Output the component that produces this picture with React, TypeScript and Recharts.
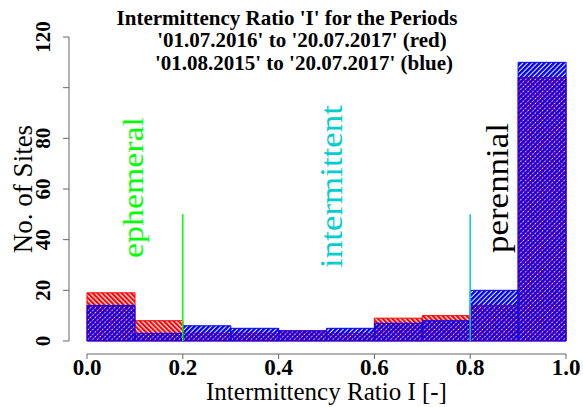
import React from "react"
import { ComposedChart, Bar, XAxis, YAxis, ReferenceLine } from "recharts"

// histogram bins of the intermittency ratio (bin centres, width 0.1)
const binCenters = [0.05, 0.15, 0.25, 0.35, 0.45, 0.55, 0.65, 0.75, 0.85, 0.95]
// '01.07.2016' to '20.07.2017'
const redCounts = [19, 8, 3, 3, 4, 3, 9, 10, 14, 104]
// '01.08.2015' to '20.07.2017'
const blueCounts = [14, 3, 6, 5, 4, 5, 7, 8, 20, 110]

const xTicks = [0, 0.2, 0.4, 0.6, 0.8, 1.0]
const yTicks = [0, 20, 40, 60, 80, 100, 120]
const yTickLabels = ["0", "20", "40", "60", "80", "", "120"]

// class limits ephemeral / intermittent / perennial
const classBreaks = [0.2, 0.8]
const breakColors = ["#00ff00", "#00cdcd"]
const breakLineTop = 50

const data = binCenters.map((x, i) => ({ x, red: redCounts[i], blue: blueCounts[i] }))

const serif = "Liberation Serif, Times New Roman, serif"
const axisColor = "#666666"
const xDomain: [number, number] = [-0.0376, 1]
const yDomain: [number, number] = [-5.14, 120]

const YTick = (props: any) => {
  const { x, y, payload } = props
  const idx = yTicks.indexOf(payload.value)
  const label = idx >= 0 ? yTickLabels[idx] : String(payload.value)
  return (
    <text
      x={0}
      y={0}
      transform={`translate(${x - 11},${y}) rotate(-90)`}
      textAnchor="middle"
      style={{ fontFamily: serif, fontWeight: "bold", fontSize: 21 }}
      fill="#000"
    >
      {label}
    </text>
  )
}

const XTick = (props: any) => {
  const { x, y, payload } = props
  return (
    <text x={x} y={y + 14} textAnchor="middle" style={{ fontFamily: serif, fontWeight: "bold", fontSize: 23 }} fill="#000">
      {Number(payload.value).toFixed(1)}
    </text>
  )
}

const txt = (size: number, bold = false) => ({ fontFamily: serif, fontSize: size, fontWeight: bold ? "bold" : "normal" })

export default function App() {
  return (
    <div style={{ position: "absolute", left: 0, top: 0, width: 583, height: 407, background: "#fff" }}>
      <ComposedChart
        width={583}
        height={407}
        data={data}
        margin={{ top: 37, right: 17, bottom: 0, left: 0 }}
        barCategoryGap={0}
        barGap={0}
      >
        <defs>
          <pattern id="redHatch" patternUnits="userSpaceOnUse" width="3.4" height="3.4" patternTransform="rotate(-45)">
            <rect width="3.4" height="3.4" fill="#ffffff" />
            <rect width="2.2" height="3.4" fill="#ff0000" />
          </pattern>
          <pattern id="blueHatch" patternUnits="userSpaceOnUse" width="3.4" height="3.4" patternTransform="rotate(45)">
            <rect width="2.4" height="3.4" fill="#0000ff" />
          </pattern>
        </defs>
        <XAxis
          xAxisId="a"
          type="number"
          dataKey="x"
          domain={xDomain}
          ticks={xTicks}
          axisLine={false}
          tickLine={{ stroke: axisColor }}
          tickSize={5}
          height={53}
          tick={<XTick />}
          interval={0}
        />
        <XAxis xAxisId="b" type="number" dataKey="x" domain={xDomain} hide />
        <YAxis
          type="number"
          domain={yDomain}
          ticks={yTicks}
          axisLine={false}
          tickLine={{ stroke: axisColor }}
          tickSize={6}
          width={69}
          tick={<YTick />}
          interval={0}
        />
        <Bar
          xAxisId="a"
          dataKey="red"
          fill="url(#redHatch)"
          stroke="#ff0000"
          strokeWidth={1}
          isAnimationActive={false}
        />
        <Bar
          xAxisId="b"
          dataKey="blue"
          fill="url(#blueHatch)"
          stroke="#0000ff"
          strokeWidth={1}
          isAnimationActive={false}
        />
        {classBreaks.map((b, i) => (
          <ReferenceLine
            key={b}
            xAxisId="a"
            segment={[{ x: b, y: 0 }, { x: b, y: breakLineTop }]}
            stroke={breakColors[i]}
            strokeWidth={1.5}
            ifOverflow="visible"
          />
        ))}
        <ReferenceLine
          xAxisId="a"
          segment={[{ x: xTicks[0], y: yDomain[0] }, { x: xTicks[xTicks.length - 1], y: yDomain[0] }]}
          stroke={axisColor}
          ifOverflow="visible"
        />
        <ReferenceLine
          xAxisId="a"
          segment={[{ x: xDomain[0], y: yTicks[0] }, { x: xDomain[0], y: yTicks[yTicks.length - 1] }]}
          stroke={axisColor}
          ifOverflow="visible"
        />
      </ComposedChart>
      <svg
        width={583}
        height={407}
        style={{ position: "absolute", left: 0, top: 0, pointerEvents: "none" }}
      >
        <text x={287} y={25} textAnchor="middle" style={txt(21, true)}>
          Intermittency Ratio 'I' for the Periods
        </text>
        <text x={302} y={47} textAnchor="middle" style={txt(21, true)}>
          '01.07.2016' to '20.07.2017' (red)
        </text>
        <text x={304} y={70} textAnchor="middle" style={txt(21, true)}>
          '01.08.2015' to '20.07.2017' (blue)
        </text>
        <text transform="translate(32,189) rotate(-90)" textAnchor="middle" style={txt(27)}>
          No. of Sites
        </text>
        <text x={326.5} y={400} textAnchor="middle" style={txt(25)}>
          Intermittency Ratio I [-]
        </text>
        <text
          transform="translate(143,187.5) rotate(-90)"
          textAnchor="middle"
          style={txt(30)}
          fill={breakColors[0]}
          textLength={141}
          lengthAdjust="spacingAndGlyphs"
        >
          ephemeral
        </text>
        <text
          transform="translate(341.5,186.5) rotate(-90)"
          textAnchor="middle"
          style={txt(32)}
          fill={breakColors[1]}
          textLength={163}
          lengthAdjust="spacingAndGlyphs"
        >
          intermittent
        </text>
        <text
          transform="translate(508,188) rotate(-90)"
          textAnchor="middle"
          style={txt(32)}
          fill="#000"
          textLength={130}
          lengthAdjust="spacingAndGlyphs"
        >
          perennial
        </text>
      </svg>
    </div>
  )
}
